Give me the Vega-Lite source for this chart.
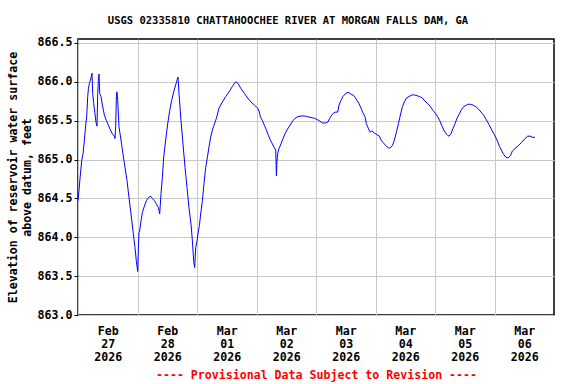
{
  "$schema": "https://vega.github.io/schema/vega-lite/v6.json",
  "width": 476,
  "height": 276,
  "autosize": "none",
  "padding": {"left": 78, "top": 39, "right": 22, "bottom": 69},
  "background": "white",
  "title": {
    "text": "USGS 02335810 CHATTAHOOCHEE RIVER AT MORGAN FALLS DAM, GA",
    "font": "DejaVu Sans Mono",
    "fontSize": 10.5,
    "fontWeight": "bold",
    "color": "black",
    "anchor": "middle",
    "dx": -28,
    "offset": 10
  },
  "config": {
    "view": {"stroke": "black", "strokeWidth": 1.5},
    "axis": {
      "labelFont": "DejaVu Sans Mono",
      "labelFontWeight": "bold",
      "labelFontSize": 11.6,
      "labelColor": "black",
      "titleFont": "DejaVu Sans Mono",
      "titleFontWeight": "bold",
      "titleFontSize": 11.6,
      "titleColor": "black",
      "gridColor": "#c8c8c8",
      "gridWidth": 1,
      "gridOpacity": 1,
      "domain": false
    }
  },
  "data": {
    "values": [
      {"t": "2026-02-27T00:00", "v": 864.47},
      {"t": "2026-02-27T00:24", "v": 864.60},
      {"t": "2026-02-27T00:48", "v": 864.75},
      {"t": "2026-02-27T01:30", "v": 864.99},
      {"t": "2026-02-27T02:01", "v": 865.07},
      {"t": "2026-02-27T02:35", "v": 865.25},
      {"t": "2026-02-27T03:06", "v": 865.44},
      {"t": "2026-02-27T03:30", "v": 865.55},
      {"t": "2026-02-27T03:55", "v": 865.81},
      {"t": "2026-02-27T04:12", "v": 865.91},
      {"t": "2026-02-27T04:36", "v": 865.98},
      {"t": "2026-02-27T05:00", "v": 866.02},
      {"t": "2026-02-27T05:24", "v": 866.07},
      {"t": "2026-02-27T05:39", "v": 866.11},
      {"t": "2026-02-27T05:56", "v": 865.85},
      {"t": "2026-02-27T06:20", "v": 865.72},
      {"t": "2026-02-27T06:51", "v": 865.59},
      {"t": "2026-02-27T07:15", "v": 865.48},
      {"t": "2026-02-27T07:40", "v": 865.43},
      {"t": "2026-02-27T07:57", "v": 865.85},
      {"t": "2026-02-27T08:14", "v": 866.02},
      {"t": "2026-02-27T08:28", "v": 866.10},
      {"t": "2026-02-27T08:45", "v": 865.85},
      {"t": "2026-02-27T09:17", "v": 865.81},
      {"t": "2026-02-27T09:50", "v": 865.70},
      {"t": "2026-02-27T10:39", "v": 865.57},
      {"t": "2026-02-27T11:27", "v": 865.50},
      {"t": "2026-02-27T12:16", "v": 865.44},
      {"t": "2026-02-27T13:04", "v": 865.38},
      {"t": "2026-02-27T13:53", "v": 865.33},
      {"t": "2026-02-27T14:41", "v": 865.30},
      {"t": "2026-02-27T14:55", "v": 865.27},
      {"t": "2026-02-27T15:12", "v": 865.42},
      {"t": "2026-02-27T15:29", "v": 865.81},
      {"t": "2026-02-27T15:44", "v": 865.87},
      {"t": "2026-02-27T16:01", "v": 865.76},
      {"t": "2026-02-27T16:32", "v": 865.42},
      {"t": "2026-02-27T17:21", "v": 865.25},
      {"t": "2026-02-27T18:09", "v": 865.07},
      {"t": "2026-02-27T18:57", "v": 864.90},
      {"t": "2026-02-27T19:46", "v": 864.73},
      {"t": "2026-02-27T20:34", "v": 864.51},
      {"t": "2026-02-27T21:23", "v": 864.30},
      {"t": "2026-02-27T22:11", "v": 864.08},
      {"t": "2026-02-27T22:59", "v": 863.87},
      {"t": "2026-02-27T23:33", "v": 863.69},
      {"t": "2026-02-28T00:05", "v": 863.56},
      {"t": "2026-02-28T00:22", "v": 863.87},
      {"t": "2026-02-28T00:36", "v": 864.06},
      {"t": "2026-02-28T00:53", "v": 864.08},
      {"t": "2026-02-28T01:25", "v": 864.21},
      {"t": "2026-02-28T01:59", "v": 864.32},
      {"t": "2026-02-28T02:47", "v": 864.40},
      {"t": "2026-02-28T03:35", "v": 864.47},
      {"t": "2026-02-28T04:24", "v": 864.51},
      {"t": "2026-02-28T05:12", "v": 864.53},
      {"t": "2026-02-28T06:01", "v": 864.50},
      {"t": "2026-02-28T06:49", "v": 864.47},
      {"t": "2026-02-28T07:37", "v": 864.43},
      {"t": "2026-02-28T08:26", "v": 864.38},
      {"t": "2026-02-28T08:57", "v": 864.30},
      {"t": "2026-02-28T09:29", "v": 864.56},
      {"t": "2026-02-28T10:02", "v": 864.77},
      {"t": "2026-02-28T10:34", "v": 865.03},
      {"t": "2026-02-28T11:22", "v": 865.25},
      {"t": "2026-02-28T12:11", "v": 865.46},
      {"t": "2026-02-28T12:59", "v": 865.63},
      {"t": "2026-02-28T13:47", "v": 865.76},
      {"t": "2026-02-28T14:36", "v": 865.87},
      {"t": "2026-02-28T15:24", "v": 865.96},
      {"t": "2026-02-28T15:56", "v": 866.02},
      {"t": "2026-02-28T16:20", "v": 866.06},
      {"t": "2026-02-28T16:44", "v": 865.85},
      {"t": "2026-02-28T17:33", "v": 865.50},
      {"t": "2026-02-28T18:21", "v": 865.20},
      {"t": "2026-02-28T19:10", "v": 864.90},
      {"t": "2026-02-28T19:58", "v": 864.64},
      {"t": "2026-02-28T20:46", "v": 864.38},
      {"t": "2026-02-28T21:35", "v": 864.17},
      {"t": "2026-02-28T22:09", "v": 863.95},
      {"t": "2026-02-28T22:40", "v": 863.69},
      {"t": "2026-02-28T23:04", "v": 863.61},
      {"t": "2026-02-28T23:29", "v": 863.87},
      {"t": "2026-03-01T00:00", "v": 863.95},
      {"t": "2026-03-01T00:34", "v": 864.08},
      {"t": "2026-03-01T00:58", "v": 864.15},
      {"t": "2026-03-01T01:29", "v": 864.30},
      {"t": "2026-03-01T02:11", "v": 864.47},
      {"t": "2026-03-01T02:49", "v": 864.69},
      {"t": "2026-03-01T03:31", "v": 864.90},
      {"t": "2026-03-01T04:12", "v": 865.03},
      {"t": "2026-03-01T04:50", "v": 865.16},
      {"t": "2026-03-01T05:32", "v": 865.29},
      {"t": "2026-03-01T06:13", "v": 865.38},
      {"t": "2026-03-01T06:51", "v": 865.44},
      {"t": "2026-03-01T07:50", "v": 865.53},
      {"t": "2026-03-01T08:52", "v": 865.66},
      {"t": "2026-03-01T10:15", "v": 865.74},
      {"t": "2026-03-01T11:35", "v": 865.81},
      {"t": "2026-03-01T12:55", "v": 865.87},
      {"t": "2026-03-01T14:17", "v": 865.94},
      {"t": "2026-03-01T15:20", "v": 865.99},
      {"t": "2026-03-01T15:53", "v": 866.00},
      {"t": "2026-03-01T16:42", "v": 865.97},
      {"t": "2026-03-01T17:45", "v": 865.91},
      {"t": "2026-03-01T19:07", "v": 865.85},
      {"t": "2026-03-01T20:27", "v": 865.79},
      {"t": "2026-03-01T21:47", "v": 865.74},
      {"t": "2026-03-01T23:09", "v": 865.70},
      {"t": "2026-03-02T00:29", "v": 865.66},
      {"t": "2026-03-02T01:10", "v": 865.61},
      {"t": "2026-03-02T01:34", "v": 865.55},
      {"t": "2026-03-02T02:23", "v": 865.50},
      {"t": "2026-03-02T03:11", "v": 865.44},
      {"t": "2026-03-02T03:59", "v": 865.38},
      {"t": "2026-03-02T04:48", "v": 865.31},
      {"t": "2026-03-02T05:36", "v": 865.25},
      {"t": "2026-03-02T06:25", "v": 865.20},
      {"t": "2026-03-02T07:13", "v": 865.15},
      {"t": "2026-03-02T07:45", "v": 865.12},
      {"t": "2026-03-02T08:02", "v": 864.79},
      {"t": "2026-03-02T08:16", "v": 864.98},
      {"t": "2026-03-02T08:33", "v": 865.08},
      {"t": "2026-03-02T09:05", "v": 865.14},
      {"t": "2026-03-02T09:53", "v": 865.20},
      {"t": "2026-03-02T10:41", "v": 865.27},
      {"t": "2026-03-02T11:30", "v": 865.33},
      {"t": "2026-03-02T12:18", "v": 865.38},
      {"t": "2026-03-02T13:06", "v": 865.42},
      {"t": "2026-03-02T13:55", "v": 865.46},
      {"t": "2026-03-02T14:43", "v": 865.50},
      {"t": "2026-03-02T15:32", "v": 865.53},
      {"t": "2026-03-02T16:37", "v": 865.55},
      {"t": "2026-03-02T17:57", "v": 865.56},
      {"t": "2026-03-02T19:19", "v": 865.56},
      {"t": "2026-03-02T20:39", "v": 865.55},
      {"t": "2026-03-02T21:59", "v": 865.54},
      {"t": "2026-03-02T23:21", "v": 865.53},
      {"t": "2026-03-03T00:41", "v": 865.51},
      {"t": "2026-03-03T01:13", "v": 865.50},
      {"t": "2026-03-03T02:35", "v": 865.47},
      {"t": "2026-03-03T03:55", "v": 865.47},
      {"t": "2026-03-03T04:43", "v": 865.48},
      {"t": "2026-03-03T05:32", "v": 865.53},
      {"t": "2026-03-03T06:20", "v": 865.57},
      {"t": "2026-03-03T07:08", "v": 865.60},
      {"t": "2026-03-03T07:57", "v": 865.61},
      {"t": "2026-03-03T08:45", "v": 865.61},
      {"t": "2026-03-03T09:17", "v": 865.70},
      {"t": "2026-03-03T10:05", "v": 865.76},
      {"t": "2026-03-03T10:53", "v": 865.81},
      {"t": "2026-03-03T11:42", "v": 865.84},
      {"t": "2026-03-03T12:30", "v": 865.86},
      {"t": "2026-03-03T13:19", "v": 865.86},
      {"t": "2026-03-03T14:07", "v": 865.84},
      {"t": "2026-03-03T14:55", "v": 865.83},
      {"t": "2026-03-03T15:44", "v": 865.80},
      {"t": "2026-03-03T16:32", "v": 865.76},
      {"t": "2026-03-03T17:20", "v": 865.72},
      {"t": "2026-03-03T18:09", "v": 865.66},
      {"t": "2026-03-03T18:57", "v": 865.60},
      {"t": "2026-03-03T19:46", "v": 865.55},
      {"t": "2026-03-03T20:20", "v": 865.46},
      {"t": "2026-03-03T20:51", "v": 865.42},
      {"t": "2026-03-03T21:23", "v": 865.38},
      {"t": "2026-03-03T21:56", "v": 865.35},
      {"t": "2026-03-03T22:28", "v": 865.37},
      {"t": "2026-03-03T23:33", "v": 865.34},
      {"t": "2026-03-04T00:36", "v": 865.32},
      {"t": "2026-03-04T01:34", "v": 865.30},
      {"t": "2026-03-04T02:13", "v": 865.25},
      {"t": "2026-03-04T03:18", "v": 865.21},
      {"t": "2026-03-04T04:24", "v": 865.17},
      {"t": "2026-03-04T05:12", "v": 865.15},
      {"t": "2026-03-04T06:01", "v": 865.15},
      {"t": "2026-03-04T06:49", "v": 865.18},
      {"t": "2026-03-04T07:37", "v": 865.25},
      {"t": "2026-03-04T08:26", "v": 865.35},
      {"t": "2026-03-04T09:14", "v": 865.46},
      {"t": "2026-03-04T10:02", "v": 865.57},
      {"t": "2026-03-04T10:51", "v": 865.68},
      {"t": "2026-03-04T11:39", "v": 865.74},
      {"t": "2026-03-04T12:28", "v": 865.79},
      {"t": "2026-03-04T13:31", "v": 865.81},
      {"t": "2026-03-04T14:36", "v": 865.83},
      {"t": "2026-03-04T15:41", "v": 865.83},
      {"t": "2026-03-04T16:44", "v": 865.82},
      {"t": "2026-03-04T17:50", "v": 865.81},
      {"t": "2026-03-04T18:55", "v": 865.79},
      {"t": "2026-03-04T19:58", "v": 865.75},
      {"t": "2026-03-04T21:04", "v": 865.72},
      {"t": "2026-03-04T22:09", "v": 865.68},
      {"t": "2026-03-04T23:11", "v": 865.63},
      {"t": "2026-03-05T00:17", "v": 865.59},
      {"t": "2026-03-05T01:05", "v": 865.55},
      {"t": "2026-03-05T01:54", "v": 865.50},
      {"t": "2026-03-05T02:42", "v": 865.44},
      {"t": "2026-03-05T03:31", "v": 865.38},
      {"t": "2026-03-05T04:19", "v": 865.34},
      {"t": "2026-03-05T05:07", "v": 865.31},
      {"t": "2026-03-05T05:39", "v": 865.30},
      {"t": "2026-03-05T06:27", "v": 865.33},
      {"t": "2026-03-05T07:16", "v": 865.40},
      {"t": "2026-03-05T08:04", "v": 865.46},
      {"t": "2026-03-05T08:52", "v": 865.53},
      {"t": "2026-03-05T09:41", "v": 865.58},
      {"t": "2026-03-05T10:29", "v": 865.63},
      {"t": "2026-03-05T11:17", "v": 865.67},
      {"t": "2026-03-05T12:06", "v": 865.69},
      {"t": "2026-03-05T13:11", "v": 865.71},
      {"t": "2026-03-05T14:17", "v": 865.71},
      {"t": "2026-03-05T15:20", "v": 865.70},
      {"t": "2026-03-05T16:25", "v": 865.68},
      {"t": "2026-03-05T17:31", "v": 865.65},
      {"t": "2026-03-05T18:33", "v": 865.61},
      {"t": "2026-03-05T19:38", "v": 865.57},
      {"t": "2026-03-05T20:44", "v": 865.51},
      {"t": "2026-03-05T21:47", "v": 865.45},
      {"t": "2026-03-05T22:52", "v": 865.38},
      {"t": "2026-03-05T23:58", "v": 865.32},
      {"t": "2026-03-06T01:01", "v": 865.25},
      {"t": "2026-03-06T01:59", "v": 865.17},
      {"t": "2026-03-06T03:26", "v": 865.08},
      {"t": "2026-03-06T04:31", "v": 865.03},
      {"t": "2026-03-06T05:27", "v": 865.02},
      {"t": "2026-03-06T06:25", "v": 865.05},
      {"t": "2026-03-06T07:13", "v": 865.11},
      {"t": "2026-03-06T08:16", "v": 865.14},
      {"t": "2026-03-06T09:38", "v": 865.18},
      {"t": "2026-03-06T10:58", "v": 865.22},
      {"t": "2026-03-06T12:18", "v": 865.27},
      {"t": "2026-03-06T13:23", "v": 865.30},
      {"t": "2026-03-06T14:43", "v": 865.30},
      {"t": "2026-03-06T15:32", "v": 865.28},
      {"t": "2026-03-06T16:20", "v": 865.29}
    ]
  },
  "mark": {"type": "line", "color": "#0000ff", "strokeWidth": 1, "interpolate": "linear", "clip": true},
  "encoding": {
    "x": {
      "field": "t",
      "type": "temporal",
      "scale": {
        "domain": [
          {"year": 2026, "month": 2, "date": 27},
          {"year": 2026, "month": 3, "date": 7}
        ]
      },
      "axis": {
        "values": [
          {"year": 2026, "month": 2, "date": 27},
          {"year": 2026, "month": 2, "date": 28},
          {"year": 2026, "month": 3, "date": 1},
          {"year": 2026, "month": 3, "date": 2},
          {"year": 2026, "month": 3, "date": 3},
          {"year": 2026, "month": 3, "date": 4},
          {"year": 2026, "month": 3, "date": 5},
          {"year": 2026, "month": 3, "date": 6}
        ],
        "labelExpr": "[timeFormat(datum.value, '%b'), timeFormat(datum.value, '%d'), timeFormat(datum.value, '%Y')]",
        "labelOffset": 29.75,
        "labelAlign": "center",
        "labelBaseline": "top",
        "labelLineHeight": 13,
        "labelPadding": 10,
        "labelOverlap": false,
        "labelBound": false,
        "labelFlush": false,
        "ticks": false,
        "grid": true,
        "title": "---- Provisional Data Subject to Revision ----",
        "titleColor": "#ff0000",
        "titlePadding": 7
      }
    },
    "y": {
      "field": "v",
      "type": "quantitative",
      "scale": {"domain": [863.0, 866.55], "nice": false, "zero": false},
      "axis": {
        "values": [863.0, 863.5, 864.0, 864.5, 865.0, 865.5, 866.0, 866.5],
        "format": ".1f",
        "grid": true,
        "tickSize": 4,
        "tickColor": "black",
        "labelPadding": 2,
        "title": ["Elevation of reservoir water surface", "above datum, feet"],
        "titleLineHeight": 14,
        "titlePadding": 5
      }
    }
  }
}
